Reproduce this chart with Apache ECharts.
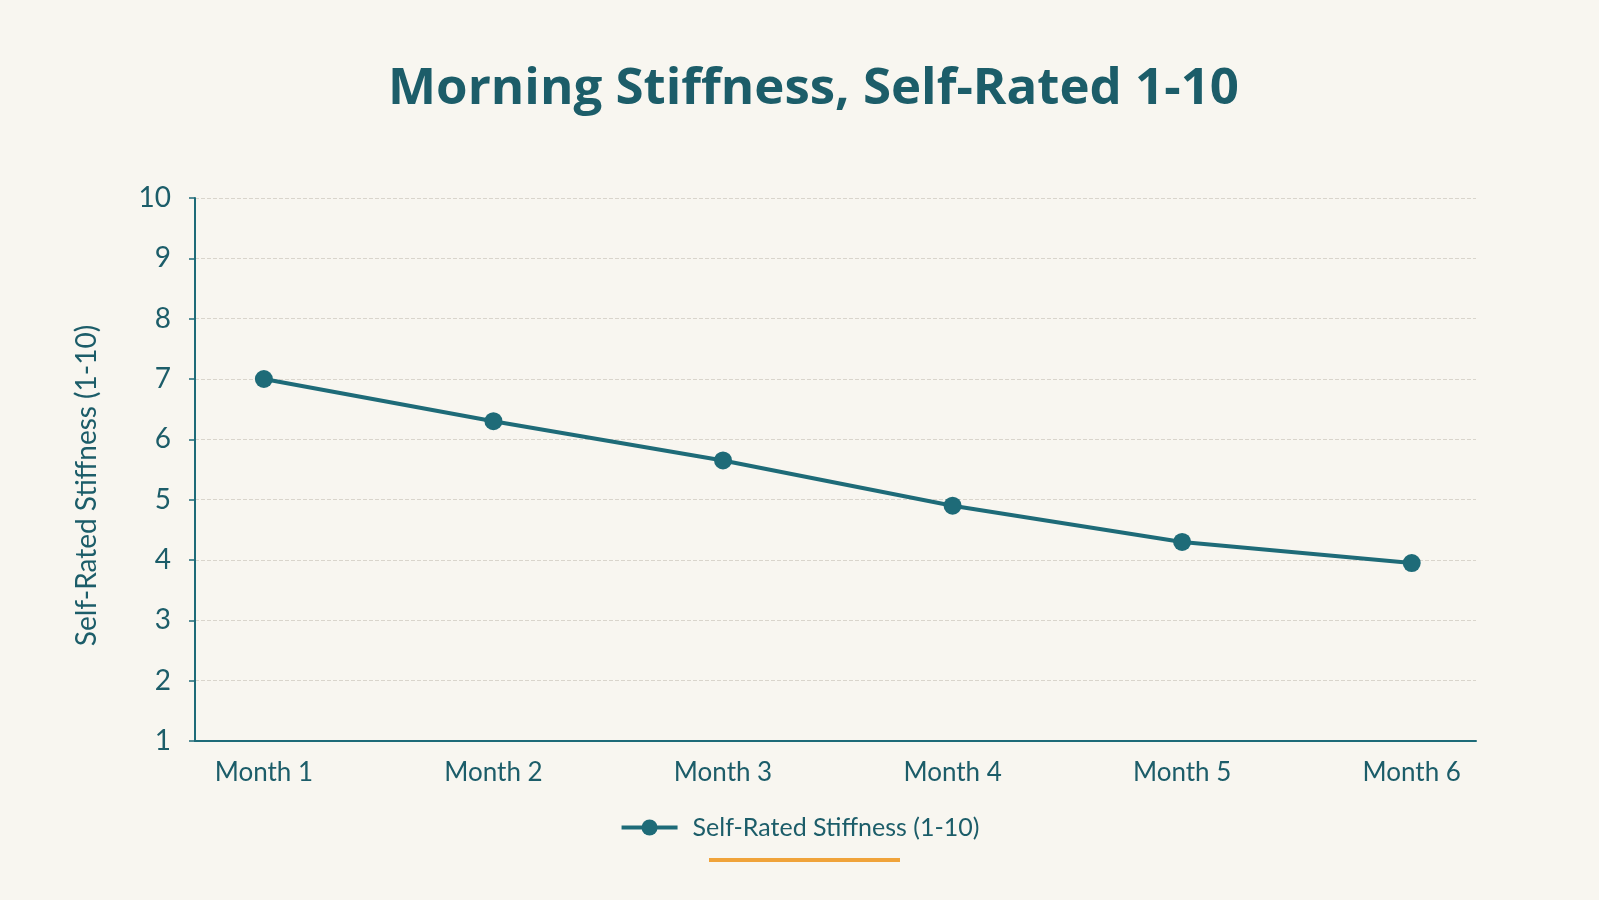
<!DOCTYPE html>
<html>
<head>
<meta charset="utf-8">
<script src="https://cdn.jsdelivr.net/npm/echarts@6/dist/echarts.min.js"></script>
<style>
  html, body { margin: 0; padding: 0; background: #f8f6f0; }
  #main { width: 1599px; height: 900px; }
</style>
</head>
<body>
<div id="main"></div>
<script>
// chart data
var months = ['Month 1', 'Month 2', 'Month 3', 'Month 4', 'Month 5', 'Month 6'];
var monthIndex = [1, 2, 3, 4, 5, 6];
var stiffness = [7.0, 6.3, 5.65, 4.9, 4.3, 3.95];
var yTicks = [1, 2, 3, 4, 5, 6, 7, 8, 9, 10];

var teal = '#1e6b78';
var textTeal = '#1c5d69';

var points = monthIndex.map(function (m, i) { return [m, stiffness[i]]; });

var chart = echarts.init(document.getElementById('main'));
var option = {
    backgroundColor: '#f8f6f0',
    textStyle: { fontFamily: 'Lato' },
    title: {
        text: 'Morning Stiffness, Self-Rated 1-10',
        left: 388,
        top: 64,
        padding: 0,
        textStyle: { fontFamily: 'Open Sans', fontWeight: 'bold', fontSize: 51, color: textTeal }
    },
    legend: {
        bottom: 55,
        left: 'center',
        itemWidth: 56,
        itemHeight: 20,
        itemGap: 12,
        data: ['Self-Rated Stiffness (1-10)'],
        lineStyle: { width: 4 },
        textStyle: { fontFamily: 'Lato', fontSize: 25, color: textTeal, padding: [0, 0, 0, 10] }
    },
    grid: { left: 195, right: 123, top: 198, bottom: 159 },
    xAxis: {
        type: 'value',
        min: 0.7,
        max: 6.28,
        axisLine: { show: true, lineStyle: { color: teal, width: 2 } },
        axisTick: { show: false },
        splitLine: { show: false },
        axisLabel: {
            customValues: monthIndex,
            formatter: function (v) { return months[Math.round(v) - 1]; },
            margin: 19,
            fontSize: 26,
            color: textTeal
        }
    },
    yAxis: {
        type: 'value',
        min: yTicks[0],
        max: yTicks[yTicks.length - 1],
        interval: 1,
        name: 'Self-Rated Stiffness (1-10)',
        nameLocation: 'middle',
        nameGap: 94,
        nameTextStyle: { fontSize: 28, color: textTeal, padding: [0, 32, 0, 0] },
        axisLine: { show: true, lineStyle: { color: teal, width: 2 } },
        axisTick: { show: true, length: 6, lineStyle: { color: teal, width: 1.5 } },
        axisLabel: { margin: 24, fontSize: 28, color: textTeal },
        splitLine: { show: true, lineStyle: { color: '#d9d5cc', type: 'dashed', width: 1 } }
    },
    series: [{
        name: 'Self-Rated Stiffness (1-10)',
        type: 'line',
        data: points,
        symbol: 'circle',
        symbolSize: 18,
        itemStyle: { color: teal },
        lineStyle: { color: teal, width: 4 }
    }],
    graphic: [{
        type: 'rect',
        left: 709,
        top: 858,
        shape: { width: 191, height: 4 },
        style: { fill: '#f0a33a' }
    }]
};
chart.setOption(option);
</script>
</body>
</html>
